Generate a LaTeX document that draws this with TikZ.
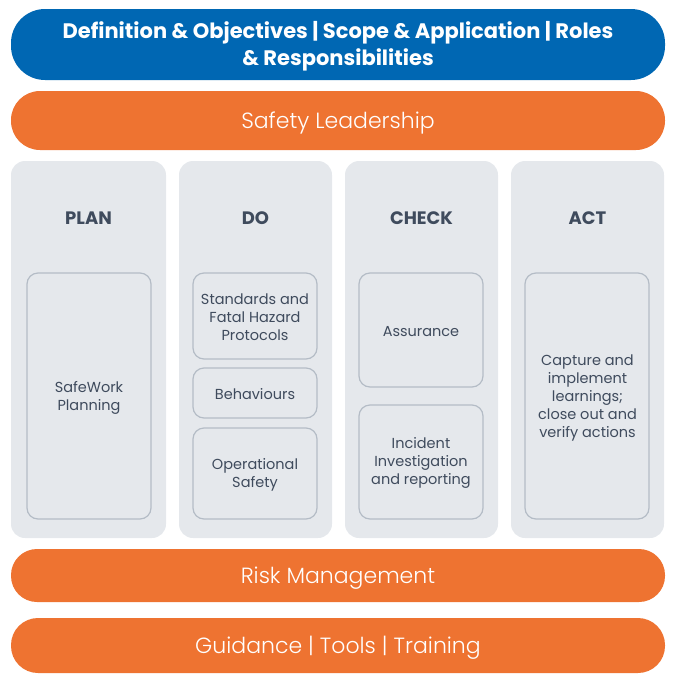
\documentclass[tikz,border=0pt]{standalone}
\usepackage{fontspec}
\setmainfont{Poppins}
\newfontfamily\lightfont{Poppins Light}
\definecolor{blueb}{HTML}{0067B3}
\definecolor{orangeb}{HTML}{EE7331}
\definecolor{colfill}{HTML}{E5E8EC}
\definecolor{boxline}{HTML}{B4BCC6}
\definecolor{txt}{HTML}{3F4B5D}
\tikzset{
  bar/.style={fill=#1, draw=none, rounded corners=27pt},
  col/.style={fill=colfill, draw=none, rounded corners=14pt},
  inbox/.style={fill=colfill, draw=boxline, line width=1.2pt, rounded corners=11pt},
  hdr/.style={font=\bfseries\fontsize{18}{21}\selectfont, text=txt},
  intext/.style={font=\fontsize{14.5}{18}\selectfont, text=txt, align=center},
  bartext/.style={font=\lightfont\fontsize{22}{26}\selectfont, text=white, align=center},
}
\begin{document}
\begin{tikzpicture}[x=1pt,y=-1pt]
\useasboundingbox (0,0) rectangle (685,686);
% top bars
\path[bar=blueb, rounded corners=34pt] (11,9) rectangle (665,80);
\node[font=\bfseries\fontsize{21}{26.5}\selectfont, text=white, align=center] (def) at (338,46) {Definition \& Objectives | Scope \& Application | Roles\\\& Responsibilities};
\path[bar=orangeb, rounded corners=29pt] (11,91) rectangle (665,150);
\node[bartext] (lead) at (338,123) {Safety Leadership};
% columns
\path[col] (11,161) rectangle (166,538);
\path[col] (179,161) rectangle (332,538);
\path[col] (345,161) rectangle (498,538);
\path[col] (511,161) rectangle (664,538);
\node[hdr] (plan) at (88.5,218.5) {PLAN};
\node[hdr] (do) at (255.5,218.5) {DO};
\node[hdr] (check) at (421.5,218.5) {CHECK};
\node[hdr] (act) at (587.5,218.5) {ACT};
% inner boxes
\path[inbox] (27,273) rectangle (151,519);
\node[intext] (swp) at (89,398) {SafeWork\\Planning};
\path[inbox] (193,273) rectangle (317,359);
\node[intext] (std) at (255,317) {Standards and\\Fatal Hazard\\Protocols};
\path[inbox] (193,368) rectangle (317,418);
\node[intext] (beh) at (255,394) {Behaviours};
\path[inbox] (193,428) rectangle (317,519);
\node[intext] (ops) at (255,474.5) {Operational\\Safety};
\path[inbox] (359,273) rectangle (483,387);
\node[intext] (ass) at (421,332) {Assurance};
\path[inbox] (359,405) rectangle (483,519);
\node[intext] (inc) at (421,463) {Incident\\Investigation\\and reporting};
\path[inbox] (525,273) rectangle (649,519);
\node[intext] (cap) at (587.5,397.5) {Capture and\\implement\\learnings;\\close out and\\verify actions};
% bottom bars
\path[bar=orangeb, rounded corners=26pt] (11,549) rectangle (665,602);
\node[bartext] (risk) at (338,578.5) {Risk Management};
\path[bar=orangeb, rounded corners=27pt] (11,618) rectangle (665,673);
\node[bartext] (guid) at (338,647.5) {Guidance | Tools | Training};
\end{tikzpicture}
\end{document}
